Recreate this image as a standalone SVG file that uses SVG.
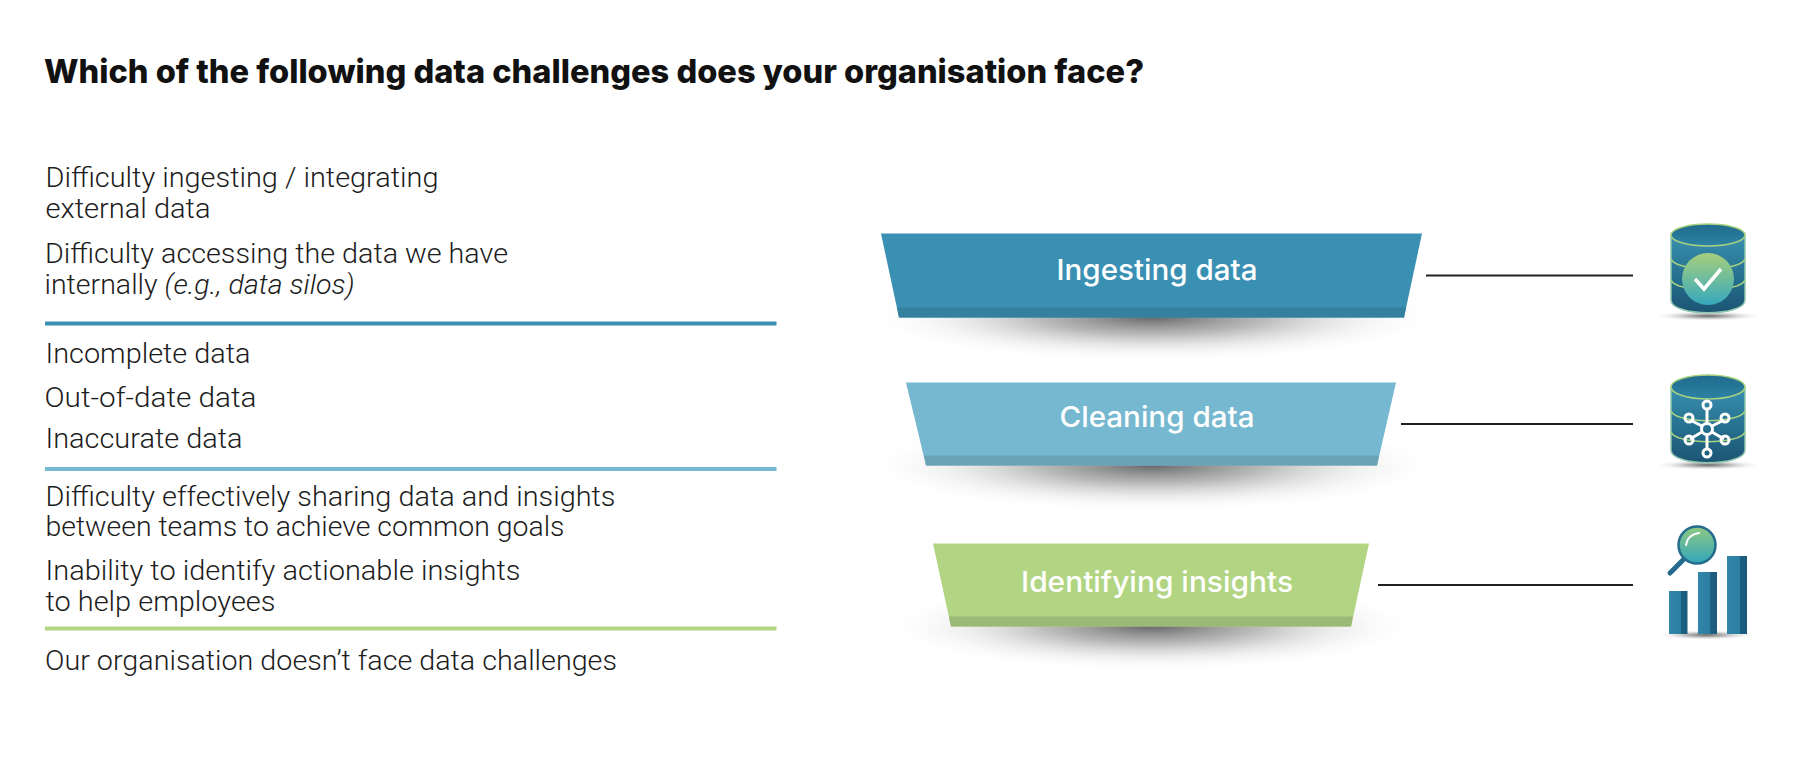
<svg xmlns="http://www.w3.org/2000/svg" width="1801" height="761" viewBox="0 0 1801 761">
<style>
text{font-family:Roboto,"Liberation Sans",sans-serif}
.t{font-size:28px;font-weight:300;fill:#1c1c1c}
.h{font-family:Inter,"Liberation Sans",sans-serif;font-size:33px;font-weight:800;fill:#111}
.l{font-family:Inter,"Liberation Sans",sans-serif;font-size:29px;font-weight:500;fill:#fff;text-anchor:middle}
.c{stroke:#222;stroke-width:2;fill:none}
.r{stroke-width:4;fill:none}
.rim{fill:none;stroke:#a9d27f;stroke-width:1.6}
.net{fill:none;stroke:#fff;stroke-width:3}
</style>
<defs>
<radialGradient id="sh"><stop offset="0" stop-color="#666668" stop-opacity="1"/><stop offset=".4" stop-color="#999" stop-opacity=".68"/><stop offset=".75" stop-color="#ccc" stop-opacity=".26"/><stop offset="1" stop-color="#eee" stop-opacity="0"/></radialGradient>
<linearGradient id="cyl" x1="0" y1="0" x2="0" y2="1"><stop offset="0" stop-color="#3a8fb0"/><stop offset=".55" stop-color="#256f8f"/><stop offset="1" stop-color="#1d5473"/></linearGradient>
<linearGradient id="top" x1="0" y1="0" x2="0" y2="1"><stop offset="0" stop-color="#1f6a8c"/><stop offset="1" stop-color="#2e83a5"/></linearGradient>
<linearGradient id="chk" x1="0" y1="0" x2="0" y2="1"><stop offset="0" stop-color="#a6cf7c"/><stop offset="1" stop-color="#36a8bd"/></linearGradient>
<linearGradient id="bar" x1="0" y1="0" x2="1" y2="0"><stop offset="0" stop-color="#3386a8"/><stop offset=".65" stop-color="#2a7ea2"/><stop offset=".66" stop-color="#1c5f80"/><stop offset="1" stop-color="#1c5a7a"/></linearGradient>
<linearGradient id="lens" x1="0" y1="0" x2="0" y2="1"><stop offset="0" stop-color="#8fc880"/><stop offset="1" stop-color="#32a6bc"/></linearGradient>
</defs>
<rect width="1801" height="761" fill="#fff"/>
<text class="h" x="44" y="83" textLength="1100" lengthAdjust="spacingAndGlyphs">Which of the following data challenges does your organisation face?</text>
<g id="list">
<text class="t" x="45.500" y="187" textLength="393" lengthAdjust="spacingAndGlyphs">Difficulty ingesting / integrating</text>
<text class="t" x="45.500" y="218" textLength="165" lengthAdjust="spacingAndGlyphs">external data</text>
<text class="t" x="45" y="263" textLength="463" lengthAdjust="spacingAndGlyphs">Difficulty accessing the data we have</text>
<text class="t" x="44.500" y="294" textLength="310" lengthAdjust="spacingAndGlyphs">internally <tspan font-style="italic">(e.g., data silos)</tspan></text>
<text class="t" x="45.500" y="362.500" textLength="205" lengthAdjust="spacingAndGlyphs">Incomplete data</text>
<text class="t" x="44.500" y="406.500" textLength="212" lengthAdjust="spacingAndGlyphs">Out-of-date data</text>
<text class="t" x="45.500" y="447.500" textLength="197" lengthAdjust="spacingAndGlyphs">Inaccurate data</text>
<text class="t" x="45.500" y="506" textLength="570" lengthAdjust="spacingAndGlyphs">Difficulty effectively sharing data and insights</text>
<text class="t" x="45.500" y="536" textLength="519" lengthAdjust="spacingAndGlyphs">between teams to achieve common goals</text>
<text class="t" x="45.500" y="579.500" textLength="475" lengthAdjust="spacingAndGlyphs">Inability to identify actionable insights</text>
<text class="t" x="45.500" y="610.500" textLength="230" lengthAdjust="spacingAndGlyphs">to help employees</text>
<text class="t" x="45" y="670" textLength="572" lengthAdjust="spacingAndGlyphs">Our organisation doesn’t face data challenges</text>
<line class="r" x1="45" y1="323.500" x2="776.500" y2="323.500" stroke="#3a90b3"/>
<line class="r" x1="45" y1="469" x2="776.500" y2="469" stroke="#76b8cf"/>
<line class="r" x1="45" y1="628.500" x2="776.500" y2="628.500" stroke="#b2d583"/>
</g>
<g id="connectors">
<line class="c" x1="1426" y1="275.500" x2="1633" y2="275.500"/>
<line class="c" x1="1401" y1="424" x2="1633" y2="424"/>
<line class="c" x1="1378" y1="585" x2="1633" y2="585"/>
</g>
<g id="ingesting">
<ellipse cx="1152" cy="317" rx="280" ry="44" fill="url(#sh)"/>
<polygon points="881,233.500 1422,233.500 1404,317.500 899,317.500" fill="#3a90b3"/>
<polygon points="897,307.500 1406,307.500 1404,317.500 899,317.500" fill="#357f9f"/>
<text class="l" x="1157" y="280" textLength="201" lengthAdjust="spacingAndGlyphs">Ingesting data</text>
</g>
<g id="cleaning">
<ellipse cx="1152" cy="465" rx="280" ry="46" fill="url(#sh)"/>
<polygon points="906,382.500 1396,382.500 1377,465.500 926,465.500" fill="#76b8cf"/>
<polygon points="924,455.500 1379,455.500 1377,465.500 926,465.500" fill="#6ca2b5"/>
<text class="l" x="1157" y="427" textLength="195" lengthAdjust="spacingAndGlyphs">Cleaning data</text>
</g>
<g id="identifying">
<ellipse cx="1152" cy="626" rx="260" ry="44" fill="url(#sh)"/>
<polygon points="933,543.500 1369,543.500 1351,626.500 951,626.500" fill="#b2d583"/>
<polygon points="949,616.500 1353,616.500 1351,626.500 951,626.500" fill="#9ab876"/>
<text class="l" x="1157" y="592" textLength="272" lengthAdjust="spacingAndGlyphs">Identifying insights</text>
</g>
<g id="icon-check">
<ellipse cx="1708" cy="316" rx="54" ry="5" fill="url(#sh)"/>
<path d="M1671 235V300C1671 317 1745 317 1745 300V235Z" fill="url(#cyl)" stroke="#8fc6b0" stroke-width="1.500"/>
<ellipse cx="1708" cy="235" rx="37" ry="11" fill="url(#top)"/>
<ellipse cx="1708" cy="235" rx="37" ry="11" class="rim"/>
<path class="rim" d="M1671 259C1676 272 1740 272 1745 259M1671 280C1676 293 1740 293 1745 280"/>
<circle cx="1708" cy="279" r="26" fill="url(#chk)"/>
<path d="M1695 279L1704 289L1721 269" fill="none" stroke="#fff" stroke-width="3.500"/>
</g>
<g id="icon-network">
<ellipse cx="1708" cy="465" rx="54" ry="5" fill="url(#sh)"/>
<path d="M1671 387V450C1671 467 1745 467 1745 450V387Z" fill="url(#cyl)" stroke="#8fc6b0" stroke-width="1.500"/>
<ellipse cx="1708" cy="387" rx="37" ry="12" fill="url(#top)"/>
<ellipse cx="1708" cy="387" rx="37" ry="12" class="rim"/>
<path class="rim" d="M1671 411C1676 424 1740 424 1745 411M1671 432C1676 445 1740 445 1745 432"/>
<circle class="net" cx="1707" cy="429" r="5.500"/>
<path class="net" d="M1707 423V409M1707 435V450M1702 426L1690 420M1712 426L1724 420M1702 432L1690 439M1712 432L1724 439"/>
<circle class="net" cx="1707" cy="405" r="4"/><circle class="net" cx="1707" cy="453" r="4"/>
<circle class="net" cx="1689" cy="418" r="4"/><circle class="net" cx="1725" cy="418" r="4"/>
<circle class="net" cx="1689" cy="440" r="4"/><circle class="net" cx="1725" cy="440" r="4"/>
</g>
<g id="icon-bars">
<ellipse cx="1706" cy="635" rx="50" ry="5" fill="url(#sh)"/>
<rect x="1669" y="591" width="18.500" height="43" fill="url(#bar)"/>
<rect x="1698" y="572" width="19" height="62" fill="url(#bar)"/>
<rect x="1727" y="556" width="20" height="78" fill="url(#bar)"/>
<line x1="1684" y1="559" x2="1670" y2="573" stroke="#246c8d" stroke-width="5" stroke-linecap="round"/>
<circle cx="1697" cy="545" r="18.500" fill="url(#lens)" stroke="#246c8d" stroke-width="2.500"/>
<path d="M1686 545C1687 538 1692 534 1699 533" fill="none" stroke="#fff" stroke-width="2" stroke-linecap="round"/>
</g>
</svg>
